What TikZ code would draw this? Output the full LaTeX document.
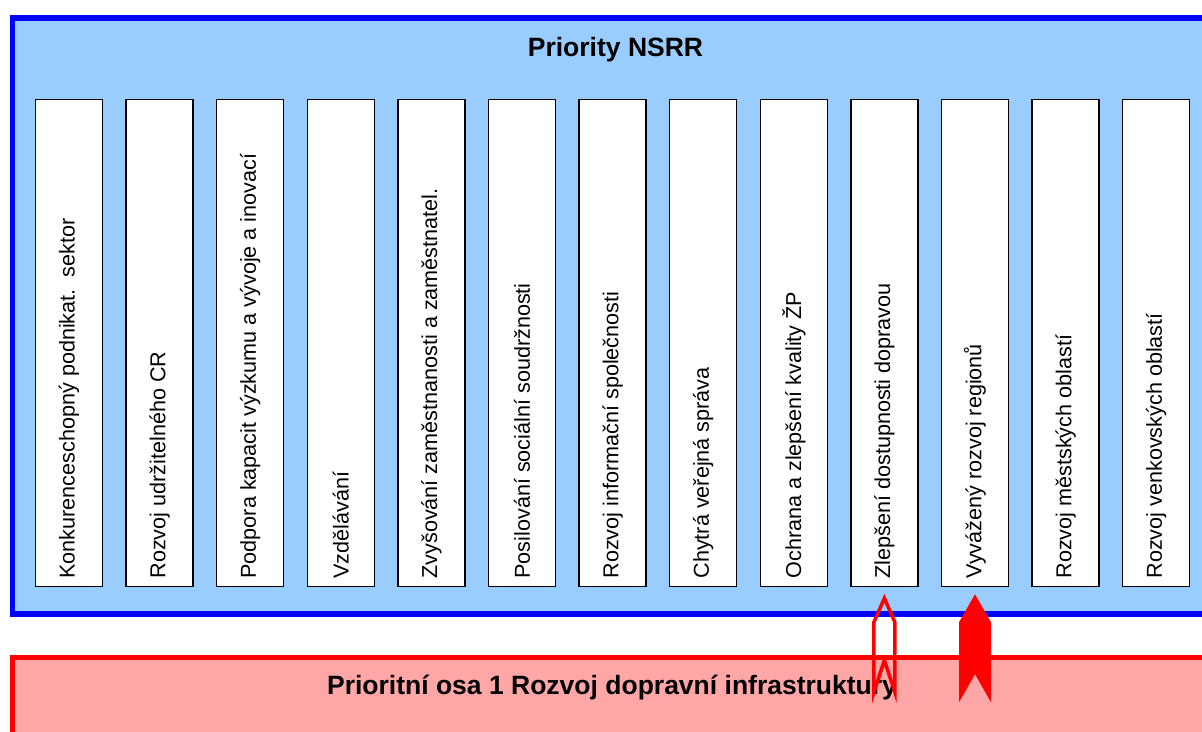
\documentclass[tikz,border=0pt]{standalone}
\usepackage{fontspec}
\setmainfont{Liberation Sans}
\usetikzlibrary{calc}
\definecolor{nsrrBlue}{RGB}{153,204,255}
\definecolor{osaRed}{RGB}{255,166,166}
\tikzset{
	frameBox/.style={rectangle, inner sep=0pt, line width=5.5pt},
	prioBox/.style={rectangle, draw=black, fill=white, line width=1.5pt, minimum width=67pt, minimum height=487pt, inner sep=0pt},
	prioText/.style={rotate=90, anchor=west, inner sep=0pt, font=\fontsize{21.6}{25}\selectfont},
	headText/.style={anchor=base, inner sep=0pt, font=\fontsize{26.5}{30}\selectfont\bfseries},
	hollowArrow/.style={draw=red, line width=3.5pt, line join=miter},
	fullArrow/.style={fill=red}
}
\begin{document}
\begin{tikzpicture}[x=1pt,y=-1pt]
		\useasboundingbox (0,0) rectangle (1202,731);
		\clip (0,0) rectangle (1202,731);

		% draw frames
		\node[frameBox, draw=blue, fill=nsrrBlue, minimum width=1203pt, minimum height=596pt](nsrr) at (614,316){};
		\node[headText](nsrrTitle) at (615.5,56){Priority NSRR};

		% draw priority boxes
		\node[prioBox](b1) at (69,343){};
		\node[prioBox](b2) at (159.6,343){};
		\node[prioBox](b3) at (250.2,343){};
		\node[prioBox](b4) at (340.8,343){};
		\node[prioBox](b5) at (431.4,343){};
		\node[prioBox](b6) at (522,343){};
		\node[prioBox](b7) at (612.6,343){};
		\node[prioBox](b8) at (703.2,343){};
		\node[prioBox](b9) at (793.8,343){};
		\node[prioBox](b10) at (884.4,343){};
		\node[prioBox](b11) at (975,343){};
		\node[prioBox](b12) at (1065.6,343){};
		\node[prioBox](b13) at (1156.2,343){};

		% draw priority texts
		\node[prioText](t1) at ([yshift=8.5pt]b1.south){Konkurenceschopný podnikat.\ \ sektor};
		\node[prioText](t2) at ([yshift=8.5pt]b2.south){Rozvoj udržitelného CR};
		\node[prioText](t3) at ([yshift=8.5pt]b3.south){Podpora kapacit výzkumu a vývoje a inovací};
		\node[prioText](t4) at ([yshift=8.5pt]b4.south){Vzdělávání};
		\node[prioText](t5) at ([yshift=8.5pt]b5.south){Zvyšování zaměstnanosti a zaměstnatel.};
		\node[prioText](t6) at ([yshift=8.5pt]b6.south){Posilování sociální soudržnosti};
		\node[prioText](t7) at ([yshift=8.5pt]b7.south){Rozvoj informační společnosti};
		\node[prioText](t8) at ([yshift=8.5pt]b8.south){Chytrá veřejná správa};
		\node[prioText](t9) at ([yshift=8.5pt]b9.south){Ochrana a zlepšení kvality ŽP};
		\node[prioText](t10) at ([yshift=8.5pt]b10.south){Zlepšení dostupnosti dopravou};
		\node[prioText](t11) at ([yshift=8.5pt]b11.south){Vyvážený rozvoj regionů};
		\node[prioText](t12) at ([yshift=8.5pt]b12.south){Rozvoj městských oblastí};
		\node[prioText](t13) at ([yshift=8.5pt]b13.south){Rozvoj venkovských oblastí};

		% draw axis box
		\node[frameBox, draw=red, fill=osaRed, minimum width=1210pt, minimum height=110pt](osa) at (617.5,712.5){};
		\node[headText](osaTitle) at (612,694){Prioritní osa 1 Rozvoj dopravní infrastruktury};

		% draw block arrows
		\draw[hollowArrow] ($(b10.south)+(0,11)$) -- ++(10.5,24) -- ++(0,70) -- ++(-10.5,-32) -- ++(-10.5,32) -- ++(0,-70) -- cycle;
		\fill[fullArrow] ($(b11.south)+(0,7)$) -- ++(16,28) -- ++(0,80) -- ++(-16,-28) -- ++(-16,28) -- ++(0,-80) -- cycle;

	\end{tikzpicture}
\end{document}
